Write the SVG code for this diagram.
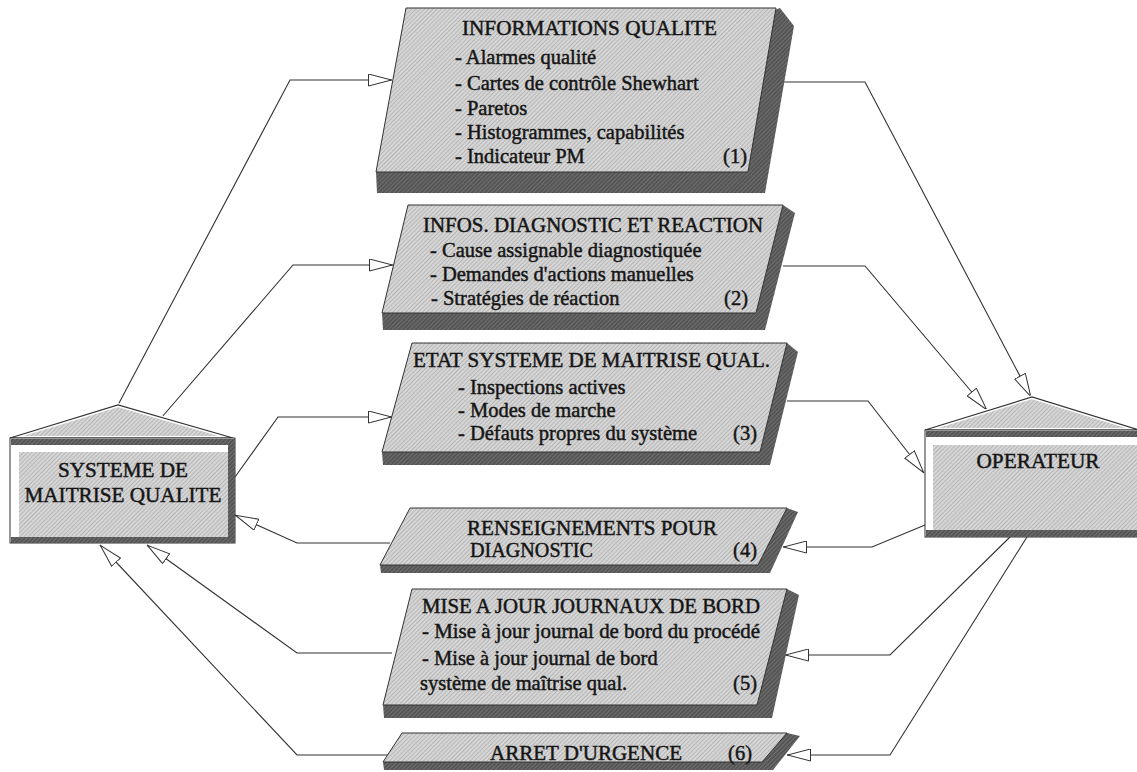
<svg xmlns="http://www.w3.org/2000/svg" width="1137" height="772" viewBox="0 0 1137 772">
<defs>
<pattern id="tex" width="3" height="3" patternUnits="userSpaceOnUse" patternTransform="rotate(45)">
<rect width="3" height="3" fill="#d6d6d6"/>
<line x1="0" y1="0" x2="0" y2="3" stroke="#9c9c9c" stroke-width="1.1"/>
</pattern>
<pattern id="dark" width="3" height="3" patternUnits="userSpaceOnUse" patternTransform="rotate(45)">
<rect width="3" height="3" fill="#555"/>
<line x1="0" y1="0" x2="0" y2="3" stroke="#8a8a8a" stroke-width="1"/>
</pattern>
<marker id="arr" viewBox="0 0 24 13" refX="24" refY="6.5" markerWidth="24" markerHeight="13" markerUnits="userSpaceOnUse" orient="auto">
<path d="M0.5,0.5 L23.5,6.5 L0.5,12.5 Z" fill="#fff" stroke="#333" stroke-width="1"/>
</marker>
</defs>
<style>
text{font-family:"Liberation Serif","Times New Roman",serif;font-size:20.5px;fill:#151515;stroke:#151515;stroke-width:0.45}
.face{fill:url(#tex);stroke:#333;stroke-width:1}
.shadow{fill:url(#dark);stroke:none}
.conn{fill:none;stroke:#333;stroke-width:1.1;marker-end:url(#arr)}
.drk{fill:url(#dark)}
.bodyw{fill:#fff;stroke:#333;stroke-width:1}
</style>
<rect width="1137" height="772" fill="#fff"/>

<g id="connectors">
<polyline class="conn" points="118,405 290,80 392,80"/>
<polyline class="conn" points="162,417 293,265 393,265"/>
<polyline class="conn" points="235,477 278,417 392,417"/>
<polyline class="conn" points="784,82 865,82 1031,397"/>
<polyline class="conn" points="783,266 865,266 987,410"/>
<polyline class="conn" points="787,401 868,401 924,473"/>
<polyline class="conn" points="925,525 872,547 783,547"/>
<polyline class="conn" points="1010,537 890,655 785,655"/>
<polyline class="conn" points="1027,537 890,755 787,755"/>
<polyline class="conn" points="390,543 297,543 235,515"/>
<polyline class="conn" points="392,653 297,653 147,545"/>
<polyline class="conn" points="390,755 297,755 100,545"/>
</g>

<g id="systeme">
<polygon points="10,438 118,405 233,438" fill="url(#tex)" stroke="#fff" stroke-width="4"/>
<polygon points="10,438 118,405 233,438" fill="none" stroke="#333" stroke-width="1.2"/>
<rect class="bodyw" x="10" y="438" width="225" height="105"/>
<rect class="drk" x="11" y="439" width="224" height="6"/>
<rect fill="url(#tex)" x="19" y="452" width="209" height="85"/>
<rect class="drk" x="228" y="445" width="7" height="98"/>
<rect class="drk" x="11" y="537" width="224" height="6"/>
<text x="123" y="477" text-anchor="middle" textLength="130" lengthAdjust="spacingAndGlyphs">SYSTEME DE</text>
<text x="123" y="502" text-anchor="middle" textLength="197" lengthAdjust="spacingAndGlyphs">MAITRISE QUALITE</text>
</g>

<g id="operateur">
<polygon points="925,430 1032,397 1139,430" fill="url(#tex)" stroke="#fff" stroke-width="4"/>
<polygon points="925,430 1032,397 1139,430" fill="none" stroke="#333" stroke-width="1.2"/>
<rect class="bodyw" x="925" y="430" width="220" height="107"/>
<rect class="drk" x="926" y="431" width="220" height="6"/>
<rect fill="url(#tex)" x="933" y="445" width="210" height="85"/>
<rect class="drk" x="926" y="530" width="220" height="7"/>
<text x="1038" y="468" text-anchor="middle" textLength="123" lengthAdjust="spacingAndGlyphs">OPERATEUR</text>
</g>

<g id="box1">
<polygon class="shadow" points="376,172 377,193 765,193 794,26 780,8"/>
<polygon class="face" points="406,8 776,8 748,172 376,172"/>
<text x="462" y="35" textLength="255" lengthAdjust="spacingAndGlyphs">INFORMATIONS QUALITE</text>
<text x="455" y="64">- Alarmes qualité</text>
<text x="455" y="90">- Cartes de contrôle Shewhart</text>
<text x="455" y="115">- Paretos</text>
<text x="455" y="139">- Histogrammes, capabilités</text>
<text x="455" y="163">- Indicateur PM</text>
<text x="747" y="163" text-anchor="end">(1)</text>
</g>

<g id="box2">
<polygon class="shadow" points="382,313 383,330 765,330 795,213 783,205"/>
<polygon class="face" points="408,205 783,205 756,313 382,313"/>
<text x="423" y="232" textLength="340" lengthAdjust="spacingAndGlyphs">INFOS. DIAGNOSTIC ET REACTION</text>
<text x="430" y="257">- Cause assignable diagnostiquée</text>
<text x="430" y="281">- Demandes d'actions manuelles</text>
<text x="431" y="305">- Stratégies de réaction</text>
<text x="748" y="305" text-anchor="end">(2)</text>
</g>

<g id="box3">
<polygon class="shadow" points="382,452 383,465 770,465 798,352 787,343"/>
<polygon class="face" points="412,343 787,343 760,452 382,452"/>
<text x="413" y="367" textLength="357" lengthAdjust="spacingAndGlyphs">ETAT SYSTEME DE MAITRISE QUAL.</text>
<text x="458" y="394">- Inspections actives</text>
<text x="458" y="417">- Modes de marche</text>
<text x="458" y="440">- Défauts propres du système</text>
<text x="757" y="440" text-anchor="end">(3)</text>
</g>

<g id="box4">
<polygon class="shadow" points="380,565 381,573 770,573 798,512 787,508"/>
<polygon class="face" points="410,508 787,508 758,565 380,565"/>
<text x="467" y="535" textLength="250" lengthAdjust="spacingAndGlyphs">RENSEIGNEMENTS POUR</text>
<text x="470" y="557" textLength="123" lengthAdjust="spacingAndGlyphs">DIAGNOSTIC</text>
<text x="757" y="557" text-anchor="end">(4)</text>
</g>

<g id="box5">
<polygon class="shadow" points="383,705 384,718 772,718 799,595 787,589"/>
<polygon class="face" points="412,589 787,589 757,705 383,705"/>
<text x="422" y="613" textLength="338" lengthAdjust="spacingAndGlyphs">MISE A JOUR JOURNAUX DE BORD</text>
<text x="422" y="638" textLength="338" lengthAdjust="spacingAndGlyphs">- Mise à jour journal de bord du procédé</text>
<text x="422" y="665">- Mise à jour journal de bord</text>
<text x="420" y="690">système de maîtrise qual.</text>
<text x="757" y="690" text-anchor="end">(5)</text>
</g>

<g id="box6">
<polygon class="shadow" points="383,762 384,770 773,770 800,736 787,733"/>
<polygon class="face" points="402,733 787,733 762,762 383,762"/>
<text x="490" y="760" textLength="192" lengthAdjust="spacingAndGlyphs">ARRET D'URGENCE</text>
<text x="752" y="760" text-anchor="end">(6)</text>
</g>
</svg>
